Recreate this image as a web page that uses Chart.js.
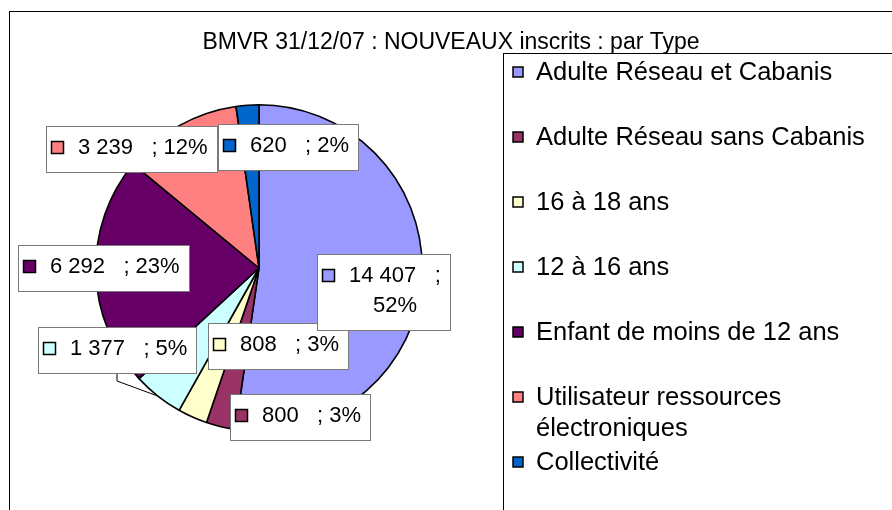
<!DOCTYPE html>
<html>
<head>
<meta charset="utf-8">
<script src="https://cdn.jsdelivr.net/npm/chart.js@4"></script>
<style>
  body { margin: 0; background: #fff; }
</style>
</head>
<body>
<canvas id="myChart" width="892" height="510"></canvas>
<script>
const chartTitle = 'BMVR 31/12/07 : NOUVEAUX inscrits : par Type';
const categories = [
    'Adulte Réseau et Cabanis',
    'Adulte Réseau sans Cabanis',
    '16 à 18 ans',
    '12 à 16 ans',
    'Enfant de moins de 12 ans',
    'Utilisateur ressources électroniques',
    'Collectivité'
];
const inscrits = [14407, 800, 808, 1377, 6292, 3239, 620];
const sliceColors = ['#9999FF', '#993366', '#FFFFCC', '#CCFFFF', '#660066', '#FF8080', '#0066CC'];

const FONT = '"Liberation Sans", Arial, sans-serif';

// 14407 -> "14 407"
const fmt = n => n.toString().replace(/\B(?=(\d{3})+(?!\d))/g, ' ');

// frame, title and the boxed legend on the right
const decor = {
    id: 'decor',
    beforeDraw(chart) {
        const ctx = chart.ctx;
        ctx.save();
        ctx.fillStyle = '#fff';
        ctx.fillRect(0, 0, chart.width, chart.height);
        ctx.strokeStyle = '#000';
        ctx.lineWidth = 1;
        ctx.strokeRect(9.5, 11.5, chart.width + 20, chart.height + 20);
        ctx.strokeRect(503.5, 53.5, chart.width, chart.height);

        ctx.fillStyle = '#000';
        ctx.font = '23px ' + FONT;
        ctx.textAlign = 'center';
        ctx.textBaseline = 'alphabetic';
        ctx.fillText(chartTitle, 451, 49);

        ctx.font = '25.5px ' + FONT;
        ctx.textAlign = 'left';
        ctx.textBaseline = 'middle';
        const maxW = chart.width - 536 - 4;
        chart.data.labels.forEach((lab, i) => {
            const y = 72 + 65 * i;
            ctx.fillStyle = sliceColors[i];
            ctx.fillRect(513, y - 5, 10, 10);
            ctx.strokeStyle = '#000';
            ctx.lineWidth = 1.5;
            ctx.strokeRect(513, y - 5, 10, 10);
            // wrap long labels
            const words = lab.split(' ');
            let lines = [], cur = '';
            words.forEach(w => {
                const t = cur ? cur + ' ' + w : w;
                if (ctx.measureText(t).width > maxW && cur) {
                    lines.push(cur);
                    cur = w;
                } else cur = t;
            });
            lines.push(cur);
            ctx.fillStyle = '#000';
            lines.forEach((l, k) => ctx.fillText(l, 536, y + 1 + k * 31));
        });
        ctx.restore();
    }
};

// Excel style data labels: "value ; percent" in a white box
const dataLabels = {
    id: 'dataLabels',
    afterDatasetsDraw(chart, args, opts) {
        const ctx = chart.ctx;
        const meta = chart.getDatasetMeta(0);
        const data = chart.data.datasets[0].data;
        const total = data.reduce((a, b) => a + b, 0);
        ctx.save();
        ctx.font = '22px ' + FONT;
        ctx.textBaseline = 'alphabetic';

        const boxes = data.map((v, i) => {
            const arc = meta.data[i];
            const r = arc.outerRadius;
            const cx = arc.x + opts.spots[i][0] * r;
            const cy = arc.y + opts.spots[i][1] * r;
            const num = fmt(v);
            const pct = Math.round(v / total * 100) + '%';
            let lines = [num + '   ; ' + pct];
            if (ctx.measureText(lines[0]).width > 135) lines = [num + '   ;', pct];
            const tw = Math.max(...lines.map(l => ctx.measureText(l).width));
            const w = 5 + 13 + 14 + tw + 9;
            const h = 46 + 30 * (lines.length - 1);
            return {arc, r, lines, left: Math.round(cx - w / 2), top: Math.round(cy - h / 2), w: Math.round(w), h};
        });

        // leader lines
        ctx.strokeStyle = '#000';
        ctx.lineWidth = 1;
        opts.leaders.forEach(i => {
            const b = boxes[i];
            const a = (b.arc.startAngle + b.arc.endAngle) / 2;
            const x0 = b.left + b.w / 2;
            ctx.beginPath();
            ctx.moveTo(x0, b.top + b.h);
            ctx.lineTo(x0, b.top + b.h + 8);
            ctx.lineTo(b.arc.x + Math.cos(a) * b.r, b.arc.y + Math.sin(a) * b.r);
            ctx.stroke();
        });

        for (let i = boxes.length - 1; i >= 0; i--) {
            const b = boxes[i];
            ctx.fillStyle = '#fff';
            ctx.fillRect(b.left, b.top, b.w, b.h);
            ctx.strokeStyle = '#7a7a7a';
            ctx.lineWidth = 1;
            ctx.strokeRect(b.left + 0.5, b.top + 0.5, b.w, b.h);

            ctx.fillStyle = sliceColors[i];
            ctx.fillRect(b.left + 5, b.top + 15, 13, 13);
            ctx.strokeStyle = '#000';
            ctx.lineWidth = 1.5;
            ctx.strokeRect(b.left + 5.5, b.top + 15.5, 12, 12);

            ctx.fillStyle = '#000';
            b.lines.forEach((l, k) => {
                if (k === 0) {
                    ctx.textAlign = 'left';
                    ctx.fillText(l, b.left + 32, b.top + 28);
                } else {
                    ctx.textAlign = 'center';
                    ctx.fillText(l, (b.left + 32 + b.left + b.w - 9) / 2, b.top + 28 + 30 * k);
                }
            });
        }
        ctx.restore();
    }
};

const ctx = document.getElementById('myChart');

new Chart(ctx, {
    type: 'pie',
    data: {
        labels: categories,
        datasets: [{
            data: inscrits,
            backgroundColor: sliceColors,
            borderColor: '#000',
            borderWidth: 1.6
        }]
    },
    options: {
        responsive: false,
        animation: false,
        layout: {
            padding: {left: 95, right: 469, top: 104, bottom: 78}
        },
        plugins: {
            legend: {display: false},
            tooltip: {enabled: false},
            dataLabels: {
                // box centres, in radii from the pie centre
                spots: [[0.76, 0.15], [0.25, 0.915], [0.116, 0.476], [-0.866, 0.5],
                        [-0.951, 0], [-0.78, -0.732], [0.177, -0.744]],
                leaders: [3]
            }
        }
    },
    plugins: [decor, dataLabels]
});
</script>
</body>
</html>
